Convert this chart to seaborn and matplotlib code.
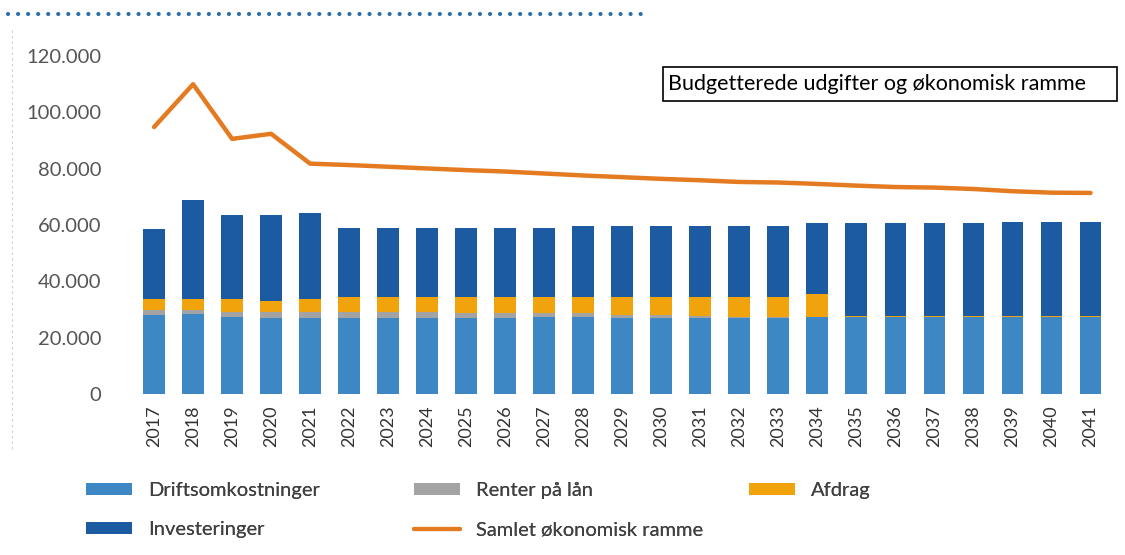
import numpy as np
import pandas as pd
import seaborn as sns
from matplotlib import pyplot as plt
from matplotlib.patches import Patch, Rectangle
from matplotlib.lines import Line2D

years = [str(y) for y in range(2017, 2042)]

drift = [28050, 28400, 27300, 27000, 27000, 27000, 27000, 27000, 27000, 27000,
         27300, 27300, 27000, 27000, 27000, 27000, 27000, 27300, 27300, 27300,
         27300, 27300, 27300, 27300, 27300]
renter = [1750, 1400, 1800, 2100, 2100, 2100, 2100, 2100, 1750, 1750,
          1450, 1450, 1050, 1050, 700, 350, 350, 0, 0, 0,
          0, 0, 0, 0, 0]
afdrag = [3900, 3900, 4600, 3900, 4600, 5300, 5300, 5300, 5650, 5650,
          5650, 5650, 6350, 6350, 6700, 7050, 7050, 8200, 400, 400,
          400, 400, 400, 400, 400]
invest = [24900, 35200, 29900, 30600, 30600, 24600, 24600, 24600, 24600, 24600,
          24600, 25300, 25300, 25300, 25300, 25300, 25300, 25200, 33000, 33000,
          33000, 33000, 33400, 33400, 33400]
ramme = [94800, 110000, 90600, 92400, 81800, 81300, 80700, 80100, 79500, 79000,
         78300, 77600, 77000, 76400, 75900, 75300, 75100, 74600, 74000, 73500,
         73300, 72800, 72000, 71500, 71400]

C_DRIFT = "#3d88c4"
C_RENTER = "#a3a3a3"
C_AFDRAG = "#f0a30a"
C_INVEST = "#1c5aa2"
C_LINE = "#e57b21"

if __name__ == '__main__':
    sns.set_theme(style="white")
    plt.rcParams['font.family'] = ['Lato', 'DejaVu Sans']

    df = pd.DataFrame({"year": years, "drift": drift, "renter": renter,
                       "afdrag": afdrag, "invest": invest, "ramme": ramme})
    # cumulative tops for the overlapping-bar stacking trick
    df["c_drift"] = df["drift"]
    df["c_renter"] = df["c_drift"] + df["renter"]
    df["c_afdrag"] = df["c_renter"] + df["afdrag"]
    df["c_invest"] = df["c_afdrag"] + df["invest"]

    fig = plt.figure(figsize=(11.25, 5.55), dpi=100)
    ax = fig.add_axes([0.1196, 0.290, 0.8671, 0.609])

    for col, color in [("c_invest", C_INVEST), ("c_afdrag", C_AFDRAG),
                       ("c_renter", C_RENTER), ("c_drift", C_DRIFT)]:
        sns.barplot(data=df, x="year", y=col, color=color, width=0.56,
                    saturation=1, ax=ax, edgecolor="none")

    sns.lineplot(x=np.arange(len(years)), y=df["ramme"], color=C_LINE,
                 linewidth=3.2, ax=ax)

    ax.set_xlim(-0.5, len(years) - 0.5)
    ax.set_ylim(0, 120000)
    ax.set_yticks(np.arange(0, 120001, 20000))
    ax.set_yticklabels([f"{v:,}".replace(",", ".") for v in range(0, 120001, 20000)])
    ax.set_xticks(np.arange(len(years)))
    ax.set_xticklabels(years, rotation=90)
    ax.tick_params(axis="y", labelsize=14.5, labelcolor="#555555", pad=24, length=0)
    ax.tick_params(axis="x", labelsize=13, labelcolor="#333333", pad=8, length=0)
    ax.set_xlabel("")
    ax.set_ylabel("")
    for s in ax.spines.values():
        s.set_visible(False)
    ax.grid(False)

    # legend, laid out as three separate columns
    h_drift = Patch(facecolor=C_DRIFT, edgecolor="none")
    h_renter = Patch(facecolor=C_RENTER, edgecolor="none")
    h_afdrag = Patch(facecolor=C_AFDRAG, edgecolor="none")
    h_invest = Patch(facecolor=C_INVEST, edgecolor="none")
    h_line = Line2D([], [], color=C_LINE, linewidth=3)
    leg_kw = dict(frameon=False, fontsize=14.5, handlelength=2.3, handleheight=0.55,
                  handletextpad=0.8, labelspacing=1.1, loc="upper left",
                  borderaxespad=0, borderpad=0, labelcolor="#404040")
    cols = [([h_drift, h_invest], ["Driftsomkostninger", "Investeringer"], 86),
            ([h_renter, h_line], ["Renter på lån", "Samlet økonomisk ramme"], 414),
            ([h_afdrag], ["Afdrag"], 749)]
    for handles, labels, xpx in cols:
        leg = fig.legend(handles, labels, bbox_to_anchor=(xpx / 1125, 1 - 482 / 555), **leg_kw)
        fig.add_artist(leg)

    # boxed title
    fig.add_artist(Rectangle((663 / 1125, 1 - 101 / 555), 454 / 1125, 34 / 555,
                             transform=fig.transFigure, facecolor="white",
                             edgecolor="black", linewidth=1.2))
    fig.text(668 / 1125, 1 - 84 / 555, "Budgetterede udgifter og økonomisk ramme",
             fontsize=15.5, color="black", va="center", ha="left")

    # decorative dotted rule at the top and faint page edge on the left
    fig.add_artist(Line2D([8 / 1125, 648 / 1125], [1 - 14 / 555, 1 - 14 / 555],
                          transform=fig.transFigure, color="#2a6fa8", linewidth=3,
                          linestyle=(0, (0.01, 2.4)), dash_capstyle="round"))
    fig.add_artist(Line2D([12 / 1125, 12 / 1125], [1 - 30 / 555, 1 - 450 / 555],
                          transform=fig.transFigure, color="#cccccc", linewidth=0.8,
                          linestyle=(0, (2, 3))))

    fig.savefig("out.png", dpi=100, facecolor="white")
